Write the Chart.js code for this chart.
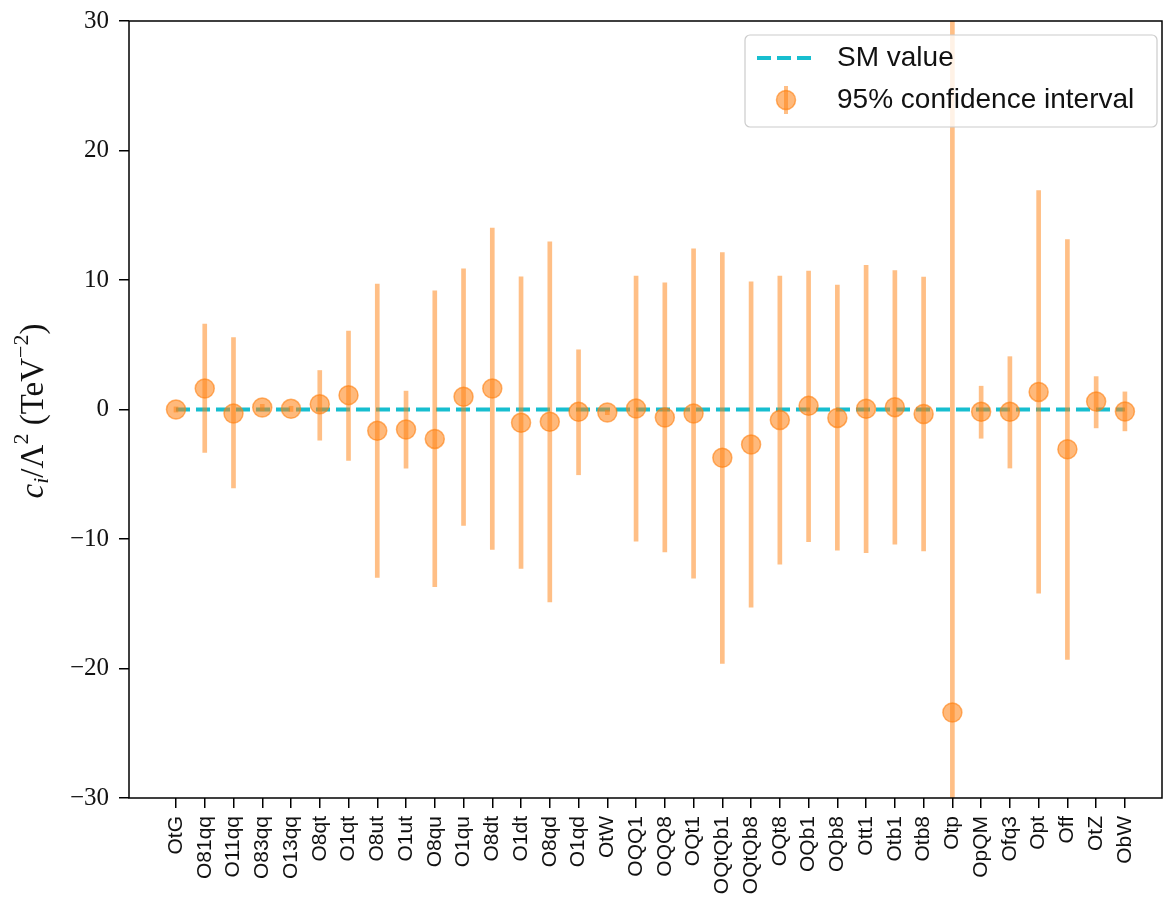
<!DOCTYPE html>
<html lang="en">
<head>
  <meta charset="UTF-8">
  <title>Wilson coefficients fit</title>
  <script src="https://cdn.jsdelivr.net/npm/chart.js"></script>
  <style>
    body { margin: 0; background: #fff; }
    canvas { display: block; }
  </style>
</head>
<body>
<canvas id="fitChart" width="1168" height="907"></canvas>

<script>
  // operator names along the x axis
  const operators = ["OtG", "O81qq", "O11qq", "O83qq", "O13qq", "O8qt", "O1qt", "O8ut", "O1ut", "O8qu",
    "O1qu", "O8dt", "O1dt", "O8qd", "O1qd", "OtW", "OQQ1", "OQQ8", "OQt1", "OQtQb1",
    "OQtQb8", "OQt8", "OQb1", "OQb8", "Ott1", "Otb1", "Otb8", "Otp", "OpQM", "Ofq3",
    "Opt", "Off", "OtZ", "ObW"];

  // best-fit values and 95% interval bounds (TeV^-2)
  const central = [0.0, 1.62, -0.31, 0.15, 0.05, 0.41, 1.11, -1.65, -1.54, -2.27,
    0.98, 1.62, -1.03, -0.95, -0.18, -0.23, 0.08, -0.62, -0.31, -3.73,
    -2.70, -0.82, 0.28, -0.65, 0.06, 0.18, -0.35, -23.4, -0.18, -0.18,
    1.36, -3.07, 0.62, -0.15];
  const lower = [-0.2, -3.32, -6.05, -0.1, -0.15, -2.37, -3.94, -12.97, -4.53, -13.69,
    -8.96, -10.81, -12.28, -14.85, -5.04, -0.4, -10.17, -10.99, -13.02, -19.61,
    -15.26, -11.94, -10.2, -10.87, -11.05, -10.40, -10.93, -75, -2.22, -4.52,
    -14.18, -19.29, -1.42, -1.65];
  const upper = [0.2, 6.59, 5.56, 0.4, 0.25, 3.01, 6.05, 9.68, 1.42, 9.16,
    10.86, 14.0, 10.24, 12.95, 4.61, -0.05, 10.30, 9.78, 12.41, 12.12,
    9.86, 10.30, 10.69, 9.60, 11.14, 10.73, 10.22, 45, 1.80, 4.08,
    16.9, 13.12, 2.54, 1.36];
  const smValue = operators.map(() => 0);

  const yTicks = [-30, -20, -10, 0, 10, 20, 30];

  const ORANGE_BAR = 'rgba(255,127,14,0.5)';
  const ORANGE_PT = 'rgba(255,127,14,0.55)';
  const CYAN = '#17becf';

  // frame, y title and legend box
  const decorations = {
    id: 'decorations',
    afterDraw(chart) {
      const ctx = chart.ctx;
      const a = chart.chartArea;
      ctx.save();
      ctx.strokeStyle = '#000';
      ctx.lineWidth = 1.5;
      ctx.strokeRect(a.left, a.top, a.right - a.left, a.bottom - a.top);

      // y axis title: c_i / Λ^2 (TeV^-2)
      const parts = [
        { t: 'c', f: 'italic 33px "Liberation Serif"', dy: 0 },
        { t: 'i', f: 'italic 22px "Liberation Serif"', dy: 8 },
        { t: '/Λ', f: '33px "Liberation Serif"', dy: 0 },
        { t: '2', f: '22px "Liberation Serif"', dy: -12 },
        { t: ' (TeV', f: '33px "Liberation Serif"', dy: 0 },
        { t: '−2', f: '22px "Liberation Serif"', dy: -12 },
        { t: ')', f: '33px "Liberation Serif"', dy: 0 }
      ];
      let total = 0;
      parts.forEach(p => { ctx.font = p.f; p.w = ctx.measureText(p.t).width; total += p.w; });
      ctx.translate(34, 411);
      ctx.rotate(-Math.PI / 2);
      ctx.fillStyle = '#111';
      ctx.textBaseline = 'middle';
      let x = -total / 2;
      parts.forEach(p => { ctx.font = p.f; ctx.fillText(p.t, x, p.dy); x += p.w; });
      ctx.restore();

      // legend
      ctx.save();
      const lx = 745, ly = 35, lw = 412, lh = 92;
      ctx.beginPath();
      ctx.roundRect(lx, ly, lw, lh, 5);
      ctx.fillStyle = 'rgba(255,255,255,0.8)';
      ctx.fill();
      ctx.strokeStyle = '#cccccc';
      ctx.lineWidth = 1.2;
      ctx.stroke();

      ctx.strokeStyle = CYAN;
      ctx.lineWidth = 4;
      ctx.setLineDash([14, 6]);
      ctx.beginPath();
      ctx.moveTo(757, 58);
      ctx.lineTo(815, 58);
      ctx.stroke();
      ctx.setLineDash([]);

      ctx.strokeStyle = ORANGE_BAR;
      ctx.beginPath();
      ctx.moveTo(786, 86);
      ctx.lineTo(786, 114);
      ctx.stroke();
      ctx.beginPath();
      ctx.arc(786, 100, 9.5, 0, Math.PI * 2);
      ctx.fillStyle = ORANGE_PT;
      ctx.fill();
      ctx.lineWidth = 1.5;
      ctx.strokeStyle = 'rgba(255,127,14,0.6)';
      ctx.stroke();

      ctx.fillStyle = '#111';
      ctx.font = '28px "Liberation Sans"';
      ctx.textBaseline = 'middle';
      ctx.fillText('SM value', 837, 58);
      ctx.fillText('95% confidence interval', 837, 100);
      ctx.restore();
    }
  };

  const ctx = document.getElementById('fitChart').getContext('2d');
  new Chart(ctx, {
    type: 'bar',
    data: {
      datasets: [
        {
          type: 'scatter',
          label: '95% confidence interval',
          data: central.map((v, i) => ({ x: i, y: v })),
          backgroundColor: ORANGE_PT,
          borderColor: 'rgba(255,127,14,0.6)',
          borderWidth: 1.5,
          pointRadius: 9.5,
          order: 0
        },
        {
          type: 'bar',
          label: 'interval',
          data: lower.map((lo, i) => ({ x: i, y: [lo, upper[i]] })),
          backgroundColor: ORANGE_BAR,
          borderWidth: 0,
          barThickness: 4,
          order: 1
        },
        {
          type: 'line',
          label: 'SM value',
          data: smValue.map((v, i) => ({ x: i, y: v })),
          borderColor: CYAN,
          borderWidth: 4,
          borderDash: [14, 6],
          pointRadius: 0,
          fill: false,
          order: 2
        }
      ]
    },
    options: {
      responsive: false,
      animation: false,
      layout: { autoPadding: false, padding: { top: 21, right: 6, left: 0, bottom: 0 } },
      plugins: {
        legend: { display: false },
        tooltip: { enabled: false }
      },
      scales: {
        x: {
          type: 'linear',
          min: -1.634,
          max: 34.29,
          offset: false,
          grid: { offset: false, drawOnChartArea: false, drawTicks: true, tickLength: 10, color: '#000', lineWidth: 1.5 },
          border: { display: false },
          afterBuildTicks: scale => { scale.ticks = operators.map((c, i) => ({ value: i })); },
          afterFit: scale => { scale.height = 109; scale.paddingLeft = 0; scale.paddingRight = 0; },
          ticks: {
            autoSkip: false,
            minRotation: 90,
            maxRotation: 90,
            padding: 8,
            color: '#111',
            font: { family: '"Liberation Sans"', size: 21 },
            callback: v => operators[v]
          }
        },
        y: {
          min: -30,
          max: 30,
          grid: { drawOnChartArea: false, drawTicks: true, tickLength: 10, color: '#000', lineWidth: 1.5 },
          border: { display: false },
          afterBuildTicks: scale => { scale.ticks = yTicks.map(v => ({ value: v })); },
          afterFit: scale => { scale.width = 129; scale.paddingTop = 0; scale.paddingBottom = 0; },
          ticks: {
            padding: 10,
            color: '#111',
            font: { family: '"Liberation Serif"', size: 25 },
            callback: v => String(v).replace('-', '−')
          }
        }
      }
    },
    plugins: [decorations]
  });
</script>
</body>
</html>
